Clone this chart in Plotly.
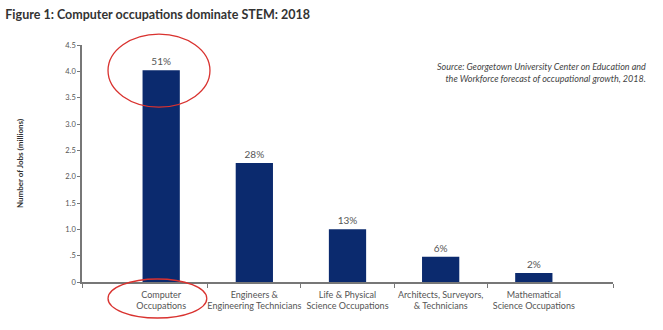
import plotly.graph_objects as go

categories = ["Computer<br>Occupations", "Engineers &<br>Engineering Technicians",
              "Life & Physical<br>Science Occupations", "Architects, Surveyors,<br>& Technicians",
              "Mathematical<br>Science Occupations"]
jobs_millions = [4.02, 2.26, 1.0, 0.48, 0.17]
share_labels = ["51%", "28%", "13%", "6%", "2%"]
y_tickvals = [0, 0.5, 1.0, 1.5, 2.0, 2.5, 3.0, 3.5, 4.0, 4.5]
y_ticktext = ["0", ".5", "1.0", "1.5", "2.0", "2.5", "3.0", "3.5", "4.0", "4.5"]

x_pos = list(range(len(categories)))
FONT = "Lato, 'Open Sans', sans-serif"
GRAY = "#555555"

fig = go.Figure(go.Bar(
    x=x_pos, y=jobs_millions, width=0.4,
    marker=dict(color="#0b2a6e", line=dict(width=0)),
    text=share_labels, textposition="outside",
    textfont=dict(family=FONT, size=10, color=GRAY),
    cliponaxis=False,
))

fig.update_layout(
    width=663, height=330,
    margin=dict(l=82, r=50, t=45, b=48),
    plot_bgcolor="white", paper_bgcolor="white",
    showlegend=False,
    title=dict(text="<b>Figure 1: Computer occupations dominate STEM: 2018</b>",
               x=0.008, xanchor="left", y=0.955, yanchor="middle",
               font=dict(family=FONT, size=12.5, color="#333333")),
    xaxis=dict(range=[-0.85, 4.85], tickmode="array", tickvals=x_pos, ticktext=categories,
               ticks="", showline=True, linecolor="#777777", linewidth=1.5,
               tickfont=dict(family=FONT, size=9, color=GRAY), ticklabelstandoff=3,
               showgrid=False, zeroline=False,
               minor=dict(tickmode="array", tickvals=[-0.85, 0.5, 1.5, 2.5, 3.5, 4.85],
                          ticks="outside", ticklen=4, tickcolor="#777777", tickwidth=1)),
    yaxis=dict(range=[0, 4.5], tickmode="array", tickvals=y_tickvals, ticktext=y_ticktext,
               ticks="outside", ticklen=3, tickcolor="#777777",
               showline=True, linecolor="#777777", linewidth=1.5,
               tickfont=dict(family=FONT, size=7.5, color=GRAY),
               showgrid=False, zeroline=False,
               title=dict(text="<b>Number of Jobs (millions)</b>", standoff=40,
                          font=dict(family=FONT, size=8, color="#333333"))),
)

fig.add_annotation(
    text="<i>Source: Georgetown University Center on Education and<br>"
         "the Workforce forecast of occupational growth, 2018.</i>",
    xref="paper", yref="paper", x=1.065, y=0.885, xanchor="right", yanchor="middle",
    align="right", showarrow=False,
    font=dict(family=FONT, size=9, color="#444444"),
)

# red highlight ellipses
fig.add_shape(type="circle", xref="paper", yref="paper", x0=0.049, x1=0.241, y0=0.738, y1=1.046,
              line=dict(color="#d9322f", width=1.3))
fig.add_shape(type="circle", xref="paper", yref="paper", x0=0.049, x1=0.235, y0=-0.152, y1=0.0127,
              line=dict(color="#d9322f", width=1.3))

fig.write_html("out.html")
